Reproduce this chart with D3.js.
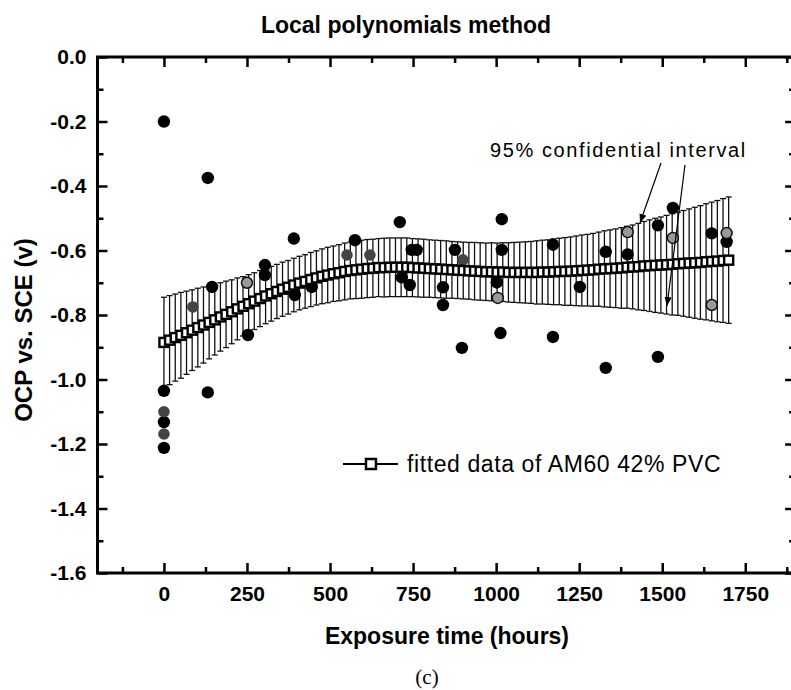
<!DOCTYPE html>
<html><head><meta charset="utf-8">
<script src="https://cdn.jsdelivr.net/npm/d3@7"></script>
<style>body{margin:0;background:#fff;} svg{display:block;}</style>
</head><body><svg id="c" width="791" height="690"></svg>
<script>
// ---------- data ----------
const xMajor = [0,250,500,750,1000,1250,1500,1750];
const xMinor = [-125,125,375,625,875,1125,1375,1625,1875];
const yMajor = [0,-0.2,-0.4,-0.6,-0.8,-1.0,-1.2,-1.4,-1.6];
const yMinor = [-0.1,-0.3,-0.5,-0.7,-0.9,-1.1,-1.3,-1.5];

// measured data (filled circles)
const solidHours = [0,132,0,0,0,132,145,253,304,304,391,394,445,575,710,746,761,716,740,876,840,840,1017,1002,897,1013,1017,1171,1171,1252,1330,1330,1396,1487,1487,1532,1649,1694];
const solidOCP   = [-0.20,-0.375,-1.035,-1.132,-1.212,-1.04,-0.713,-0.862,-0.645,-0.676,-0.563,-0.738,-0.713,-0.568,-0.512,-0.598,-0.598,-0.683,-0.707,-0.598,-0.714,-0.769,-0.598,-0.699,-0.902,-0.856,-0.503,-0.582,-0.868,-0.713,-0.604,-0.964,-0.612,-0.522,-0.930,-0.468,-0.547,-0.573];
// measured data printed in grey
const greyHours = [0,0,87,551,620,900];
const greyOCP   = [-1.10,-1.169,-0.775,-0.614,-0.614,-0.629];
// measured data printed hollow
const hollowHours = [250,1005,1396,1532,1649,1694];
const hollowOCP   = [-0.70,-0.747,-0.543,-0.561,-0.769,-0.546];

// fitted data (local polynomial) and 95% interval half-width
const fitHours = [0,17,34,51,68,85,102,119,136,153,170,187,204,221,238,255,272,289,306,323,340,357,374,391,408,425,442,459,476,493,510,527,544,561,578,595,612,629,646,663,680,697,714,731,748,765,782,799,816,833,850,867,884,901,918,935,952,969,986,1003,1020,1037,1054,1071,1088,1105,1122,1139,1156,1173,1190,1207,1224,1241,1258,1275,1292,1309,1326,1343,1360,1377,1394,1411,1428,1445,1462,1479,1496,1513,1530,1547,1564,1581,1598,1615,1632,1649,1666,1683,1700];
const fitOCP = [-0.885,-0.878,-0.870,-0.863,-0.855,-0.847,-0.839,-0.831,-0.823,-0.815,
 -0.806,-0.798,-0.790,-0.781,-0.773,-0.765,-0.757,-0.749,-0.741,-0.734,
 -0.727,-0.720,-0.714,-0.707,-0.701,-0.696,-0.690,-0.685,-0.680,-0.676,
 -0.672,-0.669,-0.665,-0.662,-0.660,-0.658,-0.656,-0.655,-0.653,-0.653,
 -0.652,-0.652,-0.652,-0.652,-0.653,-0.654,-0.655,-0.656,-0.657,-0.658,
 -0.659,-0.660,-0.661,-0.662,-0.663,-0.664,-0.665,-0.666,-0.666,-0.667,
 -0.667,-0.668,-0.668,-0.668,-0.668,-0.668,-0.668,-0.667,-0.667,-0.666,
 -0.665,-0.665,-0.664,-0.663,-0.662,-0.661,-0.660,-0.658,-0.657,-0.656,
 -0.655,-0.654,-0.652,-0.651,-0.650,-0.648,-0.647,-0.646,-0.645,-0.644,
 -0.643,-0.641,-0.640,-0.639,-0.638,-0.637,-0.635,-0.634,-0.633,-0.631,-0.630];
const fitErr = [0.140,0.138,0.135,0.133,0.129,0.125,0.122,0.118,0.113,0.109,
 0.106,0.103,0.099,0.096,0.092,0.090,0.088,0.087,0.086,0.085,
 0.084,0.084,0.083,0.083,0.083,0.083,0.084,0.084,0.085,0.086,
 0.086,0.087,0.088,0.088,0.089,0.090,0.090,0.090,0.090,0.091,
 0.091,0.091,0.091,0.091,0.090,0.090,0.090,0.089,0.089,0.089,
 0.089,0.088,0.088,0.088,0.088,0.089,0.089,0.089,0.090,0.090,
 0.091,0.092,0.093,0.094,0.095,0.096,0.098,0.099,0.100,0.102,
 0.103,0.105,0.106,0.108,0.110,0.111,0.113,0.115,0.118,0.120,
 0.122,0.125,0.127,0.130,0.134,0.138,0.142,0.146,0.149,0.153,
 0.157,0.160,0.164,0.168,0.172,0.176,0.180,0.184,0.188,0.192,0.196];

const titleText = "Local polynomials method";
const xTitle = "Exposure time (hours)";
const yTitle = "OCP vs. SCE (v)";
const legendText = "fitted data of AM60 42% PVC";
const noteText = "95% confidential interval";
const captionText = "(c)";

// ---------- drawing ----------
const svg = d3.select("#c");
const SANS = "'Liberation Sans', Arial, Helvetica, sans-serif";
const x = d3.scaleLinear().domain([-200,1900]).range([97.5,795.1]);
const y = d3.scaleLinear().domain([-1.6,0]).range([573,57]);

svg.append("rect").attr("width",791).attr("height",690).attr("fill","#fff");

const fit = fitHours.map((h,i)=>({h, v:fitOCP[i], e:fitErr[i]}));

// error bars
const eb = svg.append("g").attr("stroke","#111").attr("stroke-width",1.3);
eb.selectAll("line.v").data(fit).join("line").attr("class","v")
  .attr("x1",d=>x(d.h)).attr("x2",d=>x(d.h))
  .attr("y1",d=>y(d.v+d.e)).attr("y2",d=>y(d.v-d.e));
eb.selectAll("line.t").data(fit).join("line").attr("class","t")
  .attr("x1",d=>x(d.h)-3).attr("x2",d=>x(d.h)+3)
  .attr("y1",d=>y(d.v+d.e)).attr("y2",d=>y(d.v+d.e));
eb.selectAll("line.b").data(fit).join("line").attr("class","b")
  .attr("x1",d=>x(d.h)-3).attr("x2",d=>x(d.h)+3)
  .attr("y1",d=>y(d.v-d.e)).attr("y2",d=>y(d.v-d.e));

// measured points
const pts = svg.append("g");
pts.selectAll("circle.s").data(solidHours.map((h,i)=>[h,solidOCP[i]])).join("circle")
  .attr("class","s").attr("cx",d=>x(d[0])).attr("cy",d=>y(d[1])).attr("r",6.2).attr("fill","#000");
pts.selectAll("circle.g").data(greyHours.map((h,i)=>[h,greyOCP[i]])).join("circle")
  .attr("class","g").attr("cx",d=>x(d[0])).attr("cy",d=>y(d[1])).attr("r",5.8).attr("fill","#444");
pts.selectAll("circle.h").data(hollowHours.map((h,i)=>[h,hollowOCP[i]])).join("circle")
  .attr("class","h").attr("cx",d=>x(d[0])).attr("cy",d=>y(d[1])).attr("r",5.5)
  .attr("fill","#999").attr("stroke","#111").attr("stroke-width",1.5);

// fitted line + squares
svg.append("path").datum(fit)
  .attr("d", d3.line().x(d=>x(d.h)).y(d=>y(d.v)))
  .attr("fill","none").attr("stroke","#000").attr("stroke-width",1.5);
const S = 9;
svg.append("g").selectAll("rect").data(fit).join("rect")
  .attr("x",d=>x(d.h)-S/2).attr("y",d=>y(d.v)-S/2).attr("width",S).attr("height",S)
  .attr("fill","#fff").attr("stroke","#000").attr("stroke-width",2.4);

// axes
function styleAxis(g){
  g.select(".domain").remove();
  g.selectAll(".tick line").attr("stroke","#000").attr("stroke-width",2.5);
  g.selectAll(".tick text").attr("fill","#000").attr("font-family",SANS)
   .attr("font-weight","bold").attr("font-size",21);
}
svg.append("g").attr("transform","translate(0,573)")
  .call(d3.axisBottom(x).tickValues(xMajor).tickSize(-10).tickPadding(13).tickFormat(d=>String(d))).call(styleAxis);
svg.append("g").attr("transform","translate(0,573)")
  .call(d3.axisBottom(x).tickValues(xMinor).tickSize(-6).tickFormat("")).call(styleAxis);
svg.append("g").attr("transform","translate(0,57)")
  .call(d3.axisTop(x).tickValues(xMajor).tickSize(-10).tickFormat("")).call(styleAxis);
svg.append("g").attr("transform","translate(0,57)")
  .call(d3.axisTop(x).tickValues(xMinor).tickSize(-6).tickFormat("")).call(styleAxis);
svg.append("g").attr("transform","translate(97.5,0)")
  .call(d3.axisLeft(y).tickValues(yMajor).tickSize(-10).tickPadding(11).tickFormat(d=>d.toFixed(1))).call(styleAxis);
svg.append("g").attr("transform","translate(97.5,0)")
  .call(d3.axisLeft(y).tickValues(yMinor).tickSize(-6).tickFormat("")).call(styleAxis);
svg.append("g").attr("transform","translate(795.1,0)")
  .call(d3.axisRight(y).tickValues(yMajor).tickSize(-10).tickFormat("")).call(styleAxis);
svg.append("g").attr("transform","translate(795.1,0)")
  .call(d3.axisRight(y).tickValues(yMinor).tickSize(-6).tickFormat("")).call(styleAxis);

// frame
svg.append("rect").attr("x",x.range()[0]).attr("y",y.range()[1])
  .attr("width",x.range()[1]-x.range()[0]).attr("height",y.range()[0]-y.range()[1])
  .attr("fill","none").attr("stroke","#000").attr("stroke-width",3);

// titles
svg.append("text").attr("x",406).attr("y",33).attr("text-anchor","middle")
  .attr("font-family",SANS).attr("font-weight","bold").attr("font-size",23).text(titleText);
svg.append("text").attr("x",447).attr("y",644).attr("text-anchor","middle")
  .attr("font-family",SANS).attr("font-weight","bold").attr("font-size",23).text(xTitle);
svg.append("text").attr("transform","translate(32,330) rotate(-90)").attr("text-anchor","middle")
  .attr("font-family",SANS).attr("font-weight","bold").attr("font-size",24).text(yTitle);
svg.append("text").attr("x",427).attr("y",684).attr("text-anchor","middle")
  .attr("font-family","'Liberation Serif','Times New Roman',serif").attr("font-size",21).text(captionText);

// legend
const lg = svg.append("g");
lg.append("line").attr("x1",343).attr("x2",398).attr("y1",464).attr("y2",464).attr("stroke","#000").attr("stroke-width",2);
lg.append("rect").attr("x",366).attr("y",459).attr("width",10).attr("height",10)
  .attr("fill","#fff").attr("stroke","#000").attr("stroke-width",2.5);
lg.append("text").attr("x",407).attr("y",472).attr("font-family",SANS).attr("font-size",23)
  .attr("letter-spacing",0.6).text(legendText);

// annotation
const defs = svg.append("defs");
defs.append("marker").attr("id","ah").attr("viewBox","0 0 10 10").attr("refX",10).attr("refY",5)
  .attr("markerWidth",9).attr("markerHeight",9).attr("markerUnits","userSpaceOnUse").attr("orient","auto")
  .append("path").attr("d","M0,1 L10,5 L0,9 Z").attr("fill","#000");
svg.append("text").attr("x",490).attr("y",157).attr("font-family",SANS).attr("font-size",20)
  .attr("letter-spacing",1.6).text(noteText);
svg.append("line").attr("x1",661).attr("y1",163).attr("x2",640).attr("y2",223)
  .attr("stroke","#000").attr("stroke-width",1.2).attr("marker-end","url(#ah)");
svg.append("line").attr("x1",685).attr("y1",165).attr("x2",667).attr("y2",306)
  .attr("stroke","#000").attr("stroke-width",1.2).attr("marker-end","url(#ah)");
</script>
</body></html>
